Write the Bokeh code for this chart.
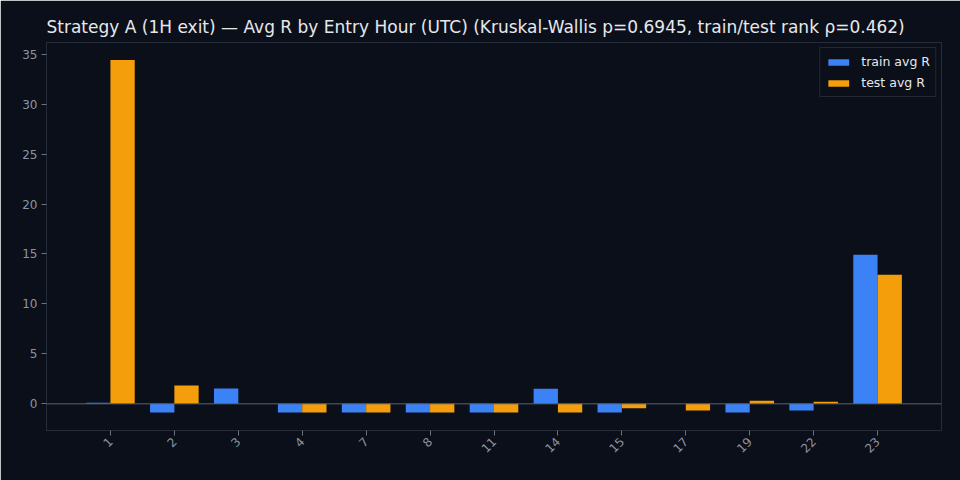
import math
from bokeh.plotting import figure
from bokeh.models import ColumnDataSource, FactorRange, Range1d, Span, Legend, LegendItem
from bokeh.transform import dodge
from bokeh.embed import file_html
from bokeh.resources import INLINE

hours = ["1", "2", "3", "4", "7", "8", "11", "14", "15", "17", "19", "22", "23"]
train_avg_r = [0.12, -0.88, 1.53, -0.88, -0.88, -0.88, -0.88, 1.5, -0.88, 0.0, -0.88, -0.68, 14.93]
test_avg_r = [34.43, 1.83, 0.0, -0.88, -0.88, -0.88, -0.88, -0.88, -0.45, -0.68, 0.3, 0.2, 12.93]

title_text = ("Strategy A (1H exit) \u2014 Avg R by Entry Hour (UTC) "
              "(Kruskal-Wallis p=0.6945, train/test rank \u03c1=0.462)")

BG = "#0b0f19"
FONT = "DejaVu Sans"

src = ColumnDataSource(dict(hour=hours, train=train_avg_r, test=test_avg_r))

p = figure(
    width=960, height=480,
    x_range=FactorRange(factors=hours, range_padding=0.5, range_padding_units="absolute"),
    y_range=Range1d(-2.67, 36.17),
    output_backend="svg", toolbar_location=None,
    background_fill_color=BG, border_fill_color=BG,
    min_border_left=46, min_border_right=19, min_border_bottom=50, min_border_top=42,
)

p.title.text = title_text
p.title.text_color = "#e6e8ec"
p.title.text_font = FONT
p.title.text_font_size = "17px"
p.title.text_font_style = "normal"
p.title.align = "left"
p.title.offset = 0
p.title.standoff = 11

r_train = p.vbar(x=dodge("hour", -0.19, range=p.x_range), top="train", width=0.38,
                 source=src, fill_color="#3b82f6", line_color=None)
r_test = p.vbar(x=dodge("hour", 0.19, range=p.x_range), top="test", width=0.38,
                source=src, fill_color="#f59e0b", line_color=None)

p.add_layout(Span(location=0, dimension="width", line_color="#5b6372", line_width=1))

p.xgrid.visible = False
p.ygrid.visible = False
p.outline_line_color = "#262d3a"
p.outline_line_width = 1

for ax in (p.xaxis[0], p.yaxis[0]):
    ax.axis_line_color = None
    ax.major_tick_line_color = "#6b7280"
    ax.major_tick_out = 5
    ax.major_tick_in = 0
    ax.minor_tick_line_color = None
    ax.major_label_text_color = "#8b94a3"
    ax.major_label_text_font = FONT
    ax.major_label_text_font_size = "12px"

p.yaxis.ticker = [0, 5, 10, 15, 20, 25, 30, 35]
p.yaxis.major_label_standoff = 4
p.xaxis.major_label_orientation = math.pi / 4
p.xaxis.major_label_standoff = 4

legend = Legend(items=[LegendItem(label="train avg R", renderers=[r_train]),
                       LegendItem(label="test avg R", renderers=[r_test])],
                location="top_right")
legend.background_fill_color = BG
legend.background_fill_alpha = 1.0
legend.border_line_color = "#3a4150"
legend.border_line_width = 1.5
legend.label_text_color = "#e6e8ec"
legend.label_text_font = FONT
legend.label_text_font_size = "12.5px"
legend.glyph_width = 26
legend.glyph_height = 8
legend.label_height = 17
legend.label_standoff = 10
legend.spacing = 4
legend.padding = 5
legend.margin = 5
p.add_layout(legend)

html = file_html(p, INLINE)
html = html.replace("<body>", '<body style="background:%s">' % BG, 1)
open("out.html", "w").write(html)
